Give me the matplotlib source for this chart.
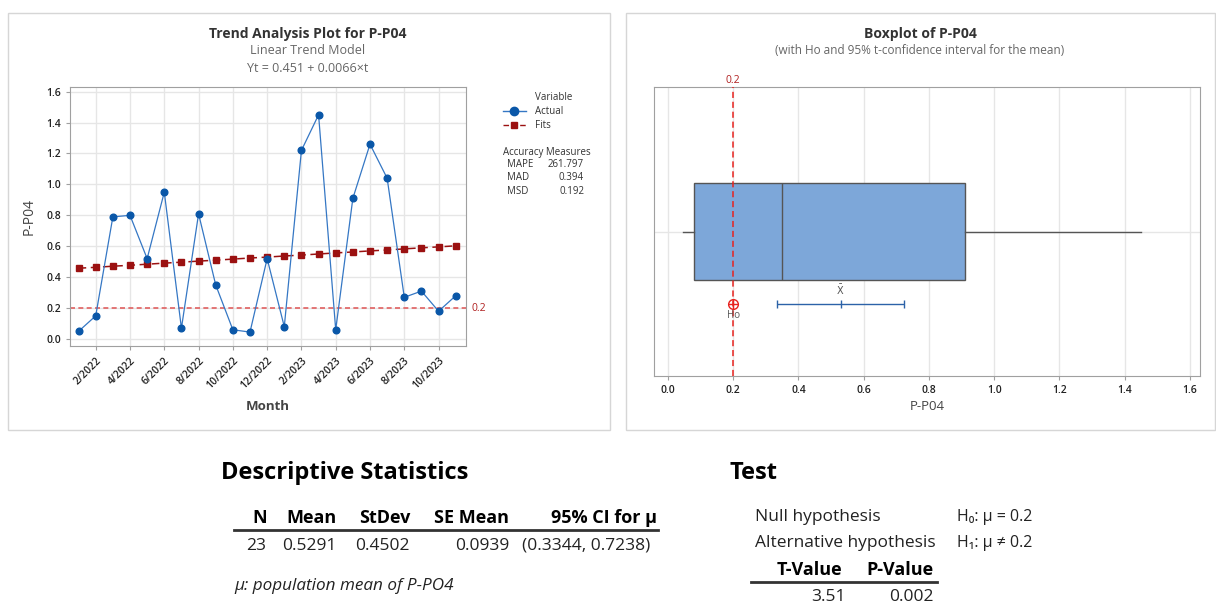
import numpy as np
import matplotlib.pyplot as plt
from matplotlib import font_manager
from matplotlib.lines import Line2D
from matplotlib.patches import Rectangle

# pick a Segoe-like family that really has a bold face installed
def has_bold(fam):
    return any(f.name == fam and f.weight in (600, 700, 'bold', 'semibold', 'demibold')
               for f in font_manager.fontManager.ttflist)

base = next((f for f in ['Open Sans', 'Noto Sans', 'Lato', 'Roboto'] if has_bold(f)), 'DejaVu Sans')
plt.rcParams['font.family'] = [base, 'DejaVu Sans']

# ---- data ----
months = ['1/2022', '2/2022', '3/2022', '4/2022', '5/2022', '6/2022', '7/2022', '8/2022',
          '9/2022', '10/2022', '11/2022', '12/2022', '1/2023', '2/2023', '3/2023', '4/2023',
          '5/2023', '6/2023', '7/2023', '8/2023', '9/2023', '10/2023', '11/2023']
actual = [0.05, 0.15, 0.79, 0.80, 0.52, 0.95, 0.07, 0.81, 0.35, 0.06, 0.045, 0.52,
          0.08, 1.22, 1.45, 0.06, 0.91, 1.26, 1.04, 0.27, 0.31, 0.18, 0.28]
fits = [0.458, 0.464, 0.471, 0.477, 0.484, 0.491, 0.497, 0.504, 0.510, 0.517, 0.524, 0.530,
        0.537, 0.543, 0.550, 0.557, 0.563, 0.570, 0.576, 0.583, 0.590, 0.596, 0.603]
h0 = 0.2
accuracy = [('MAPE', '261.797'), ('MAD', '0.394'), ('MSD', '0.192')]

box_q1, box_med, box_q3 = 0.08, 0.35, 0.91
whisk_lo, whisk_hi = 0.045, 1.45
mean_val, ci_lo, ci_hi = 0.5291, 0.3344, 0.7238

desc_headers = ['N', 'Mean', 'StDev', 'SE Mean', '95% CI for μ']
desc_values = ['23', '0.5291', '0.4502', '0.0939', '(0.3344, 0.7238)']
test_headers = ['T-Value', 'P-Value']
test_values = ['3.51', '0.002']

# ---- figure in pixel units ----
W, H = 1216, 608
fig = plt.figure(figsize=(W / 100, H / 100), dpi=100)
fig.patch.set_facecolor('white')


def fx(x):
    return x / W


def fy(y):
    return 1 - y / H


def ftext(x, y, s, **kw):
    kw.setdefault('va', 'center')
    kw.setdefault('color', '#333333')
    fig.text(fx(x), fy(y), s, **kw)


# panel frames
for x0, y0, x1, y1 in [(8, 13, 610, 430), (626, 13, 1215, 430)]:
    fig.add_artist(Rectangle((fx(x0), fy(y1)), fx(x1 - x0), (y1 - y0) / H,
                             transform=fig.transFigure, fill=False,
                             edgecolor='#d6d6d6', lw=1))

blue = '#0a57a8'
red_dark = '#9b1111'
grid_c = '#e6e6e6'
spine_c = '#a0a0a0'

# ---- trend plot ----
ax = fig.add_axes([fx(70), fy(346), fx(396), 259 / H])
t = np.arange(1, len(actual) + 1)
ax.axhline(h0, color='#e06060', ls=(0, (3, 2)), lw=1.2, zorder=1)
ax.plot(t, fits, color=red_dark, ls=(0, (5, 3)), lw=1.1, marker='s', ms=4.5,
        mfc=red_dark, mec=red_dark, zorder=2)
ax.plot(t, actual, color='#3577c4', lw=0.9, marker='o', ms=4.8,
        mfc=blue, mec=blue, zorder=3)
ax.set_xlim(0.5, 23.6)
ax.set_ylim(-0.045, 1.63)
ax.set_yticks(np.arange(0, 1.61, 0.2))
ax.set_yticklabels([f'{v:.1f}' for v in np.arange(0, 1.61, 0.2)], fontweight='semibold')
ax.set_xticks(t[1::2])
ax.set_xticklabels(months[1::2], rotation=45, ha='right', rotation_mode='anchor',
                   fontweight='semibold')
ax.tick_params(labelsize=7.5, colors='#222222', length=3, color=spine_c)
ax.grid(True, color=grid_c, lw=1)
ax.set_axisbelow(True)
for s in ax.spines.values():
    s.set_color(spine_c)
ax.text(23.95, h0, '0.2', color='#b02020', fontsize=7.5, va='center', ha='left',
        transform=ax.transData, clip_on=False)
ax.set_ylabel('P-P04', fontsize=10, color='#444444', labelpad=7)
ftext(268, 407, 'Month', fontsize=9.5, color='#444444', fontweight='bold', ha='center')

ftext(308, 34, 'Trend Analysis Plot for P-P04', fontsize=10, fontweight='bold', ha='center')
ftext(308, 51, 'Linear Trend Model', fontsize=9, color='#666666', ha='center')
ftext(308, 68, 'Yt = 0.451 + 0.0066×t', fontsize=9, color='#666666', ha='center')

# legend drawn by hand
ftext(535, 98, 'Variable', fontsize=7, ha='left')
fig.add_artist(Line2D([fx(503), fx(514), fx(526)], [fy(111)] * 3, transform=fig.transFigure,
                      color='#3577c4', lw=1, marker='o', ms=6, mfc=blue, mec=blue, markevery=[1]))
ftext(535, 111, 'Actual', fontsize=7, ha='left')
fig.add_artist(Line2D([fx(503), fx(514), fx(526)], [fy(125)] * 3, transform=fig.transFigure,
                      color=red_dark, lw=1, ls=(0, (4, 2)), marker='s', ms=5,
                      mfc=red_dark, mec=red_dark, markevery=[1]))
ftext(535, 125, 'Fits', fontsize=7, ha='left')
ftext(503, 152, 'Accuracy Measures', fontsize=7, ha='left')
for i, (name, val) in enumerate(accuracy):
    ftext(507, 165 + 13 * i, name, fontsize=7, ha='left')
    ftext(584, 165 + 13 * i, val, fontsize=7, ha='right')

# ---- boxplot ----
bx = fig.add_axes([fx(654), fy(376), fx(546), 289 / H])
stats = [dict(med=box_med, q1=box_q1, q3=box_q3, whislo=whisk_lo, whishi=whisk_hi, fliers=[])]
bx.bxp(stats, positions=[0], widths=0.67, orientation='horizontal', showcaps=False,
       patch_artist=True, showfliers=False,
       boxprops=dict(facecolor='#7da7d9', edgecolor='#555555', lw=1),
       medianprops=dict(color='#555555', lw=1),
       whiskerprops=dict(color='#555555', lw=1))
bx.axvline(h0, color='#e8231f', ls=(0, (4, 2.5)), lw=1.1, zorder=3)
bx.errorbar(mean_val, -0.5, xerr=[[mean_val - ci_lo], [ci_hi - mean_val]],
            color='#2c62a8', lw=1, capsize=3, capthick=1, zorder=4)
bx.plot([mean_val], [-0.5], marker='|', ms=6, color='#2c62a8', zorder=4)
bx.text(mean_val, -0.41, r'$\bar{\mathrm{X}}$', fontsize=7, color='#555555', ha='center', va='center')
bx.plot([h0], [-0.5], marker='o', ms=7, mfc='none', mec='#e8231f', mew=1, zorder=5)
bx.plot([h0], [-0.5], marker='+', ms=7, color='#e8231f', mew=1, zorder=5)
bx.text(h0, -0.58, 'Ho', fontsize=7, color='#555555', ha='center', va='center')
bx.text(h0, 1.01, '0.2', fontsize=7.5, color='#b02020', ha='center', va='bottom',
        clip_on=False)
bx.set_xlim(-0.043, 1.631)
bx.set_ylim(-1, 1)
bx.set_xticks(np.arange(0, 1.61, 0.2))
bx.set_xticklabels([f'{v:.1f}' for v in np.arange(0, 1.61, 0.2)], fontweight='semibold')
bx.set_yticks([0])
bx.set_yticklabels([])
bx.tick_params(axis='y', length=0)
bx.tick_params(axis='x', labelsize=7.5, colors='#222222', length=3, color=spine_c)
bx.grid(True, color=grid_c, lw=1)
bx.set_axisbelow(True)
for s in bx.spines.values():
    s.set_color(spine_c)
ftext(927, 407, 'P-P04', fontsize=9.5, color='#444444', ha='center')
ftext(920, 34, 'Boxplot of P-P04', fontsize=10, fontweight='bold', ha='center')
ftext(920, 50, '(with Ho and 95% t-confidence interval for the mean)', fontsize=8.5,
      color='#666666', ha='center')

# ---- descriptive statistics table ----
ftext(221, 473, 'Descriptive Statistics', fontsize=17, fontweight='bold', color='black', ha='left')
desc_right = [267, 337, 410, 509, 657]
val_right = [266, 336, 410, 509, 650]
for xr, vr, hd, v in zip(desc_right, val_right, desc_headers, desc_values):
    ftext(xr, 518, hd, fontsize=13, fontweight='bold', color='black', ha='right')
    ftext(vr, 546, v, fontsize=12.5, color='#222222', ha='right')
fig.add_artist(Line2D([fx(234), fx(658)], [fy(530)] * 2, transform=fig.transFigure,
                      color='#333333', lw=2))
ftext(234, 586, 'μ: population mean of P-PO4', fontsize=12.3, style='italic', color='#222222', ha='left')

# ---- test table ----
ftext(730, 473, 'Test', fontsize=17, fontweight='bold', color='black', ha='left')
ftext(755, 517, 'Null hypothesis', fontsize=12.5, color='#222222', ha='left')
ftext(957, 517, 'H₀: μ = 0.2', fontsize=11.5, color='#222222', ha='left')
ftext(755, 543, 'Alternative hypothesis', fontsize=12.5, color='#222222', ha='left')
ftext(957, 543, 'H₁: μ ≠ 0.2', fontsize=11.5, color='#222222', ha='left')
test_right = [842, 934]
test_val_right = [846, 934]
for xr, vr, hd, v in zip(test_right, test_val_right, test_headers, test_values):
    ftext(xr, 570, hd, fontsize=13, fontweight='bold', color='black', ha='right')
    ftext(vr, 597, v, fontsize=12.5, color='#222222', ha='right')
fig.add_artist(Line2D([fx(751), fx(937)], [fy(582)] * 2, transform=fig.transFigure,
                      color='#333333', lw=2))

fig.savefig('out.png', dpi=100)
